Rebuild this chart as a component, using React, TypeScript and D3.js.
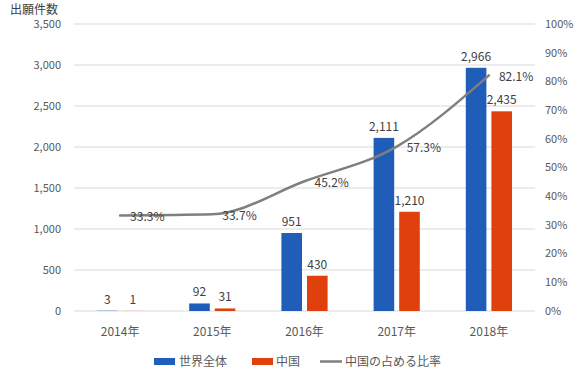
import React from "react";
import * as d3 from "d3";

const categories = ["2014年", "2015年", "2016年", "2017年", "2018年"];
const worldValues = [3, 92, 951, 2111, 2966];
const chinaValues = [1, 31, 430, 1210, 2435];
const shareValues = [33.3, 33.7, 45.2, 57.3, 82.1];
const leftTicks = [0, 500, 1000, 1500, 2000, 2500, 3000, 3500];
const rightTicks = [0, 10, 20, 30, 40, 50, 60, 70, 80, 90, 100];
const seriesNames = ["世界全体", "中国", "中国の占める比率"];

const W = 580, H = 380;
const left = 74, right = 535, top = 24, bottom = 311;
const BLUE = "#1F5DB8";
const RED = "#E0400C";
const GRAY = "#7F7F7F";
const FONT = "'Noto Sans CJK JP', 'Noto Sans', sans-serif";

export default function App() {
  const x = d3.scaleBand<string>().domain(categories).range([left, right]).padding(0);
  const y = d3.scaleLinear().domain([0, 3500]).range([bottom, top]);
  const y2 = d3.scaleLinear().domain([0, 100]).range([bottom, top]);
  const fmt = d3.format(",");
  const barW = 20.6, gap = 5;
  const cx = (c: string) => (x(c) as number) + x.bandwidth() / 2;
  const line = d3
    .line<number>()
    .x((_, i) => cx(categories[i]))
    .y((d) => y2(d))
    .curve(d3.curveMonotoneX);

  return (
    <svg width={W} height={H} style={{ position: "absolute", left: 0, top: 0, background: "#fff" }} fontFamily={FONT}>
      <text x={10} y={13.5} fontSize={12} fill="#404040">出願件数</text>
      {leftTicks.map((t) => (
        <g key={"l" + t}>
          <line x1={left} x2={right} y1={y(t)} y2={y(t)} stroke="#D9D9D9" strokeWidth={1} />
          <text x={61} y={y(t)} dy="0.35em" textAnchor="end" fontSize={11} fill="#595959">{fmt(t)}</text>
        </g>
      ))}
      {rightTicks.map((t) => (
        <text key={"r" + t} x={545} y={y2(t)} dy="0.35em" fontSize={11} fill="#595959">{t}%</text>
      ))}
      {categories.map((c, i) => {
        const c0 = cx(c);
        const bx = c0 - gap / 2 - barW;
        const ox = c0 + gap / 2;
        return (
          <g key={c}>
            <rect x={bx} y={y(worldValues[i])} width={barW} height={bottom - y(worldValues[i])} fill={BLUE} />
            <rect x={ox} y={y(chinaValues[i])} width={barW} height={bottom - y(chinaValues[i])} fill={RED} />
            <text x={bx + barW / 2} y={y(worldValues[i]) - 7} textAnchor="middle" fontSize={12} fill="#404040">{fmt(worldValues[i])}</text>
            <text x={ox + barW / 2} y={y(chinaValues[i]) - 7} textAnchor="middle" fontSize={12} fill="#404040">{fmt(chinaValues[i])}</text>
            <text x={c0} y={332} dy="0.35em" textAnchor="middle" fontSize={12} fill="#595959">{c}</text>
          </g>
        );
      })}
      <path d={line(shareValues) as string} fill="none" stroke={GRAY} strokeWidth={2.5} strokeLinecap="round" />
      {categories.map((c, i) => (
        <text key={"s" + c} x={cx(c) + 10} y={y2(shareValues[i]) + 1.5} dy="0.35em" fontSize={12} fill="#404040">
          {shareValues[i].toFixed(1)}%
        </text>
      ))}
      <g fontSize={12} fill="#595959">
        <rect x={154} y={358} width={21} height={7} fill={BLUE} />
        <text x={179} y={362} dy="0.35em">{seriesNames[0]}</text>
        <rect x={252} y={358} width={21} height={7} fill={RED} />
        <text x={276} y={362} dy="0.35em">{seriesNames[1]}</text>
        <line x1={320} x2={342} y1={361.5} y2={361.5} stroke={GRAY} strokeWidth={2.5} />
        <text x={345} y={362} dy="0.35em">{seriesNames[2]}</text>
      </g>
    </svg>
  );
}
